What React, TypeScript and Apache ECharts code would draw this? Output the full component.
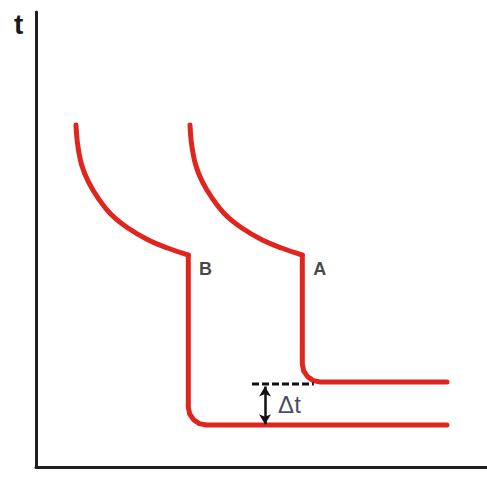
import React, { useEffect, useRef } from "react";
import * as echarts from "echarts";

// Curve B: inverse-time part (x = current, y = time)
const curveBx = [8.87, 9.25, 10.13, 11.6, 13.81, 16.79, 20.47, 24.9, 29.33, 33.77];
const curveBy = [75.16, 70.77, 66.37, 62.7, 59.05, 55.38, 52.46, 49.89, 48.07, 46.59];
// Curve B: instantaneous step part
const stepBx = [33.77, 33.77, 34.07, 34.93, 36.2, 37.73, 91.13];
const stepBy = [46.59, 13.19, 11.67, 10.4, 9.54, 9.23, 9.23];

// Curve A: inverse-time part
const curveAx = [34.15, 34.52, 35.41, 36.87, 39.09, 42.06, 45.74, 50.18, 54.61, 59.05];
const curveAy = [75.16, 70.77, 66.37, 62.7, 59.05, 55.38, 52.46, 49.89, 48.07, 46.59];
// Curve A: step part
const stepAx = [59.05, 59.05, 59.35, 60.21, 61.49, 63.02, 91.13];
const stepAy = [46.59, 22.64, 21.12, 19.85, 18.99, 18.68, 18.68];

// Reference level (dashed) and Δt arrow
const dashX = [47.9, 61.6];
const dashY = 18.24;
const arrowX = 50.78;
const arrowY = [17.7, 9.4];

// Labels
const labelNames = ["B", "A"];
const labelX = [37.6, 62.9];
const labelY = [43.6, 43.6];
const deltaLabel = "Δt";
const deltaPos = [56.2, 13.8];
const axisName = "t";

const RED = "#e0251f";

const zip = (xs: number[], ys: number[]) => xs.map((x, i) => [x, ys[i]]);

export default function App() {
  const ref = useRef<HTMLDivElement>(null);
  useEffect(() => {
    if (!ref.current) return;
    const chart = echarts.init(ref.current, undefined, { renderer: "svg" });
    const redLine = (data: number[][], smooth: boolean | number) => ({
      type: "line",
      data,
      smooth,
      symbol: "none",
      lineStyle: { color: RED, width: 5, cap: "round", join: "round" },
      silent: true,
    });
    chart.setOption({
      animation: false,
      backgroundColor: "#ffffff",
      grid: { left: 36, right: 0, top: 12, bottom: 35 },
      xAxis: {
        type: "value",
        min: 0,
        max: 100,
        axisLine: { show: true, onZero: false, lineStyle: { color: "#1e1e1e", width: 3 } },
        axisTick: { show: false },
        axisLabel: { show: false },
        splitLine: { show: false },
      },
      yAxis: {
        type: "value",
        min: 0,
        max: 100,
        axisLine: { show: true, onZero: false, lineStyle: { color: "#1e1e1e", width: 3 } },
        axisTick: { show: false },
        axisLabel: { show: false },
        splitLine: { show: false },
      },
      graphic: [
        {
          type: "text",
          left: 14,
          top: 10,
          style: {
            text: axisName,
            fontSize: 28,
            fontWeight: "bold",
            fontFamily: "Liberation Sans, Arial, sans-serif",
            fill: "#1a1a1a",
          },
        },
      ],
      series: [
        redLine(zip(curveBx, curveBy), 0.4),
        redLine(zip(stepBx, stepBy), false),
        redLine(zip(curveAx, curveAy), 0.4),
        redLine(zip(stepAx, stepAy), false),
        {
          type: "line",
          data: [
            [dashX[0], dashY],
            [dashX[1], dashY],
          ],
          symbol: "none",
          z: 3,
          lineStyle: { color: "#111111", width: 3, type: [7, 3] },
          markLine: {
            silent: true,
            symbol: ["arrow", "arrow"],
            symbolSize: [9, 10],
            label: { show: false },
            lineStyle: { color: "#111111", width: 2.5, type: "solid" },
            data: [
              [
                { coord: [arrowX, arrowY[0]] },
                { coord: [arrowX, arrowY[1]] },
              ],
            ],
          },
        },
        {
          type: "scatter",
          symbolSize: 0,
          silent: true,
          data: labelNames.map((n, i) => ({ value: [labelX[i], labelY[i]], name: n })),
          label: {
            show: true,
            position: "inside",
            formatter: (p: any) => p.name,
            fontSize: 18,
            fontWeight: "bold",
            fontFamily: "Liberation Sans, Arial, sans-serif",
            color: "#151515",
          },
        },
        {
          type: "scatter",
          symbolSize: 0,
          silent: true,
          data: [{ value: deltaPos, name: deltaLabel }],
          label: {
            show: true,
            position: "inside",
            formatter: (p: any) => p.name,
            fontSize: 24,
            fontFamily: "Liberation Sans, Arial, sans-serif",
            color: "#1a1a40",
          },
        },
      ],
    });
    return () => chart.dispose();
  }, []);
  return (
    <div
      ref={ref}
      style={{ position: "fixed", left: 0, top: 0, width: 487, height: 502, background: "#fff" }}
    />
  );
}
